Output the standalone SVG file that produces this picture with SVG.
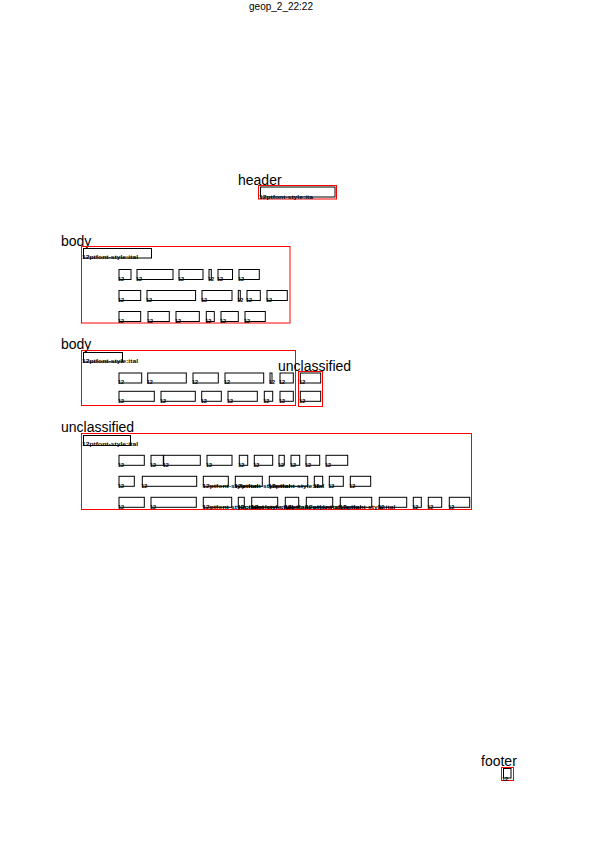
<svg xmlns="http://www.w3.org/2000/svg" width="595" height="842" viewBox="0 0 595 842">
<style>
.r{fill:none;stroke:#ff0000;stroke-width:1}
.b{fill:none;stroke:#000;stroke-width:1}
.t{font-family:"Liberation Sans",Arial,sans-serif;font-size:5.5px;font-weight:bold;fill:#000}
.l{font-family:"Liberation Sans",Arial,sans-serif;font-size:14px;fill:#000}
.ttl{font-family:"Liberation Sans",Arial,sans-serif;font-size:10px;fill:#000}
</style>
<rect width="595" height="842" fill="#fff"/>
<text class="ttl" x="281" y="9.5" text-anchor="middle">geop_2_22:22</text>

<g id="header">
<text class="l" x="238" y="185">header</text>
<rect class="r" x="258.5" y="185.5" width="78" height="13.5"/>
<rect class="b" x="260.5" y="187" width="74.5" height="10"/>
<text class="t" x="259" y="199" textLength="54" lengthAdjust="spacingAndGlyphs">12ptfont-style:ita</text>
</g>

<g id="body1">
<text class="l" x="61" y="245.5">body</text>
<rect class="r" x="81.5" y="246.5" width="208.5" height="76.5"/>
<rect class="b" x="83.5" y="248.5" width="68" height="9.5"/>
<text class="t" x="82" y="258.7" textLength="56" lengthAdjust="spacingAndGlyphs">12ptfont-style:ital</text>
<g>
<rect class="b" x="119" y="269.5" width="12" height="10"/><text class="t" x="118" y="280.7">12</text>
<rect class="b" x="137" y="269.5" width="36" height="10"/><text class="t" x="136" y="280.7">12</text>
<rect class="b" x="179" y="269.5" width="24" height="10"/><text class="t" x="178" y="280.7">12</text>
<rect class="b" x="209" y="269.5" width="2.3" height="10"/><text class="t" x="208" y="280.7">12</text>
<rect class="b" x="218" y="269.5" width="14.5" height="10"/><text class="t" x="217" y="280.7">12</text>
<rect class="b" x="239" y="269.5" width="20.3" height="10"/><text class="t" x="238" y="280.7">12</text>
</g>
<g>
<rect class="b" x="119" y="290.5" width="21.7" height="10"/><text class="t" x="118" y="301.7">12</text>
<rect class="b" x="147" y="290.5" width="48.6" height="10"/><text class="t" x="146" y="301.7">12</text>
<rect class="b" x="202" y="290.5" width="30" height="10"/><text class="t" x="201" y="301.7">12</text>
<rect class="b" x="238.3" y="290.5" width="2" height="10"/><text class="t" x="237.3" y="301.7">12</text>
<rect class="b" x="247" y="290.5" width="13.3" height="10"/><text class="t" x="246" y="301.7">12</text>
<rect class="b" x="267" y="290.5" width="20.3" height="10"/><text class="t" x="266" y="301.7">12</text>
</g>
<g>
<rect class="b" x="119" y="311.5" width="21.7" height="10"/><text class="t" x="118" y="322.7">12</text>
<rect class="b" x="148" y="311.5" width="21.3" height="10"/><text class="t" x="147" y="322.7">12</text>
<rect class="b" x="176" y="311.5" width="23.3" height="10"/><text class="t" x="175" y="322.7">12</text>
<rect class="b" x="206.3" y="311.5" width="8" height="10"/><text class="t" x="205.3" y="322.7">12</text>
<rect class="b" x="221" y="311.5" width="17.3" height="10"/><text class="t" x="220" y="322.7">12</text>
<rect class="b" x="245" y="311.5" width="20.3" height="10"/><text class="t" x="244" y="322.7">12</text>
</g>
</g>

<g id="body2">
<text class="l" x="61" y="348.5">body</text>
<rect class="r" x="81.5" y="350.5" width="214" height="55"/>
<rect class="b" x="83.5" y="352.5" width="39" height="9.5"/>
<text class="t" x="82" y="363.3" textLength="56" lengthAdjust="spacingAndGlyphs">12ptfont-style:ital</text>
<g>
<rect class="b" x="119" y="373" width="22.7" height="10"/><text class="t" x="118" y="384.2">12</text>
<rect class="b" x="147.7" y="373" width="38.6" height="10"/><text class="t" x="146.7" y="384.2">12</text>
<rect class="b" x="193" y="373" width="25.3" height="10"/><text class="t" x="192" y="384.2">12</text>
<rect class="b" x="225" y="373" width="38.7" height="10"/><text class="t" x="224" y="384.2">12</text>
<rect class="b" x="270" y="373" width="2" height="10"/><text class="t" x="269" y="384.2">12</text>
<rect class="b" x="280" y="373" width="13.3" height="10"/><text class="t" x="279" y="384.2">12</text>
</g>
<g>
<rect class="b" x="119" y="391.3" width="35.3" height="10"/><text class="t" x="118" y="402.5">12</text>
<rect class="b" x="161" y="391.3" width="34.3" height="10"/><text class="t" x="160" y="402.5">12</text>
<rect class="b" x="201.7" y="391.3" width="19.6" height="10"/><text class="t" x="200.7" y="402.5">12</text>
<rect class="b" x="228" y="391.3" width="29.3" height="10"/><text class="t" x="227" y="402.5">12</text>
<rect class="b" x="264.3" y="391.3" width="8.4" height="10"/><text class="t" x="263.3" y="402.5">12</text>
<rect class="b" x="280" y="391.3" width="13.3" height="10"/><text class="t" x="279" y="402.5">12</text>
</g>
</g>

<g id="unclassified1">
<text class="l" x="278" y="370.7">unclassified</text>
<rect class="r" x="298.5" y="371.5" width="24" height="35"/>
<rect class="b" x="300.3" y="373" width="20.4" height="10"/><text class="t" x="299.3" y="384.2">12</text>
<rect class="b" x="300.3" y="391.3" width="20.4" height="10"/><text class="t" x="299.3" y="402.5">12</text>
</g>

<g id="unclassified2">
<text class="l" x="61" y="432">unclassified</text>
<rect class="r" x="81.5" y="433.5" width="390" height="76"/>
<rect class="b" x="83.5" y="435.5" width="47" height="10"/>
<text class="t" x="82" y="445.9" textLength="56" lengthAdjust="spacingAndGlyphs">12ptfont-style:ital</text>
<g>
<rect class="b" x="119" y="455.3" width="25.3" height="10"/><text class="t" x="118" y="466.5">12</text>
<rect class="b" x="151" y="455.3" width="12.3" height="10"/><text class="t" x="150" y="466.5">12</text>
<rect class="b" x="163.7" y="455.3" width="36.6" height="10"/><text class="t" x="162.7" y="466.5">12</text>
<rect class="b" x="207" y="455.3" width="25" height="10"/><text class="t" x="206" y="466.5">12</text>
<rect class="b" x="239.3" y="455.3" width="8.4" height="10"/><text class="t" x="238.3" y="466.5">12</text>
<rect class="b" x="254.3" y="455.3" width="18.4" height="10"/><text class="t" x="253.3" y="466.5">12</text>
<rect class="b" x="279" y="455.3" width="5.3" height="10"/><text class="t" x="278" y="466.5">12</text>
<rect class="b" x="291" y="455.3" width="8.7" height="10"/><text class="t" x="290" y="466.5">12</text>
<rect class="b" x="306" y="455.3" width="13.7" height="10"/><text class="t" x="305" y="466.5">12</text>
<rect class="b" x="326" y="455.3" width="21.7" height="10"/><text class="t" x="325" y="466.5">12</text>
</g>
<g>
<rect class="b" x="119" y="476.3" width="15.3" height="10"/><text class="t" x="118" y="487.5">12</text>
<rect class="b" x="142.3" y="476.3" width="54.4" height="10"/><text class="t" x="141.3" y="487.5">12</text>
<rect class="b" x="203.3" y="476.3" width="25" height="10"/><text class="t" x="202.3" y="487.5" textLength="56" lengthAdjust="spacingAndGlyphs">12ptfont-style:ital</text>
<rect class="b" x="235.3" y="476.3" width="27" height="10"/><text class="t" x="234.3" y="487.5" textLength="56" lengthAdjust="spacingAndGlyphs">12ptfont-style:ital</text>
<rect class="b" x="269.3" y="476.3" width="38.4" height="10"/><text class="t" x="268.3" y="487.5" textLength="56" lengthAdjust="spacingAndGlyphs">12ptfont-style:ital</text>
<rect class="b" x="314.3" y="476.3" width="8.4" height="10"/><text class="t" x="313.3" y="487.5">12</text>
<rect class="b" x="329.3" y="476.3" width="14" height="10"/><text class="t" x="328.3" y="487.5">12</text>
<rect class="b" x="350.3" y="476.3" width="20.4" height="10"/><text class="t" x="349.3" y="487.5">12</text>
</g>
<g>
<rect class="b" x="119" y="497.3" width="25.3" height="10"/><text class="t" x="118" y="508.5">12</text>
<rect class="b" x="151" y="497.3" width="45.3" height="10"/><text class="t" x="150" y="508.5">12</text>
<rect class="b" x="203.3" y="497.3" width="28.4" height="10"/><text class="t" x="202.3" y="508.5" textLength="56" lengthAdjust="spacingAndGlyphs">12ptfont-style:ital</text>
<rect class="b" x="238.3" y="497.3" width="6" height="10"/><text class="t" x="237.3" y="508.5" textLength="56" lengthAdjust="spacingAndGlyphs">12ptfont-style:ital</text>
<rect class="b" x="251.7" y="497.3" width="26" height="10"/><text class="t" x="250.7" y="508.5" textLength="56" lengthAdjust="spacingAndGlyphs">12ptfont-style:ital</text>
<rect class="b" x="285.3" y="497.3" width="13.4" height="10"/><text class="t" x="284.3" y="508.5" textLength="56" lengthAdjust="spacingAndGlyphs">12ptfont-style:ital</text>
<rect class="b" x="306.3" y="497.3" width="26.4" height="10"/><text class="t" x="305.3" y="508.5" textLength="56" lengthAdjust="spacingAndGlyphs">12ptfont-style:ital</text>
<rect class="b" x="340.3" y="497.3" width="31.4" height="10"/><text class="t" x="339.3" y="508.5" textLength="56" lengthAdjust="spacingAndGlyphs">12ptfont-style:ital</text>
<rect class="b" x="379.3" y="497.3" width="27.4" height="10"/><text class="t" x="378.3" y="508.5">12</text>
<rect class="b" x="413.3" y="497.3" width="8" height="10"/><text class="t" x="412.3" y="508.5">12</text>
<rect class="b" x="428.3" y="497.3" width="13.4" height="10"/><text class="t" x="427.3" y="508.5">12</text>
<rect class="b" x="449.3" y="497.3" width="20.4" height="10"/><text class="t" x="448.3" y="508.5">12</text>
</g>
</g>

<g id="footer">
<text class="l" x="481" y="766">footer</text>
<rect class="r" x="501.5" y="767.5" width="12" height="13"/>
<rect class="b" x="503.5" y="768.5" width="7.5" height="9.5"/>
<text class="t" x="502" y="780.5">12</text>
</g>
</svg>
